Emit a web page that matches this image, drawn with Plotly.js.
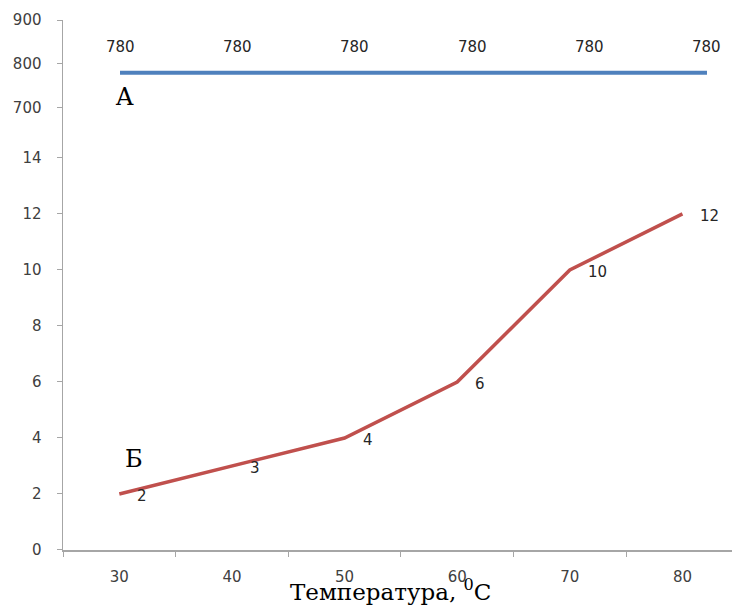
<!DOCTYPE html>
<html>
<head>
<meta charset="utf-8">
<script src="https://cdn.plot.ly/plotly-3.0.1.min.js"></script>
<style>html,body{margin:0;padding:0;background:#fff;}#chart{width:732px;height:606px;}</style>
</head>
<body>
<div id="chart"></div>
<script>
const temperatures = ["30", "40", "50", "60", "70", "80"];
const seriesA = [780, 780, 780, 780, 780, 780];
const seriesB = [2, 3, 4, 6, 10, 12];
const lowerTicks = [0, 2, 4, 6, 8, 10, 12, 14];
const upperTicks = [700, 800, 900];

const tickFont = {family: "DejaVu Sans, Verdana, sans-serif", size: 15, color: "#404040"};
const labelFont = {family: "DejaVu Sans, Verdana, sans-serif", size: 15, color: "#262626"};
const serif = "DejaVu Serif, Liberation Serif, serif";

const traces = [
  {x: temperatures, y: seriesB, xaxis: "x", yaxis: "y", mode: "lines", type: "scatter",
   line: {color: "#c0504d", width: 3.5}, hoverinfo: "skip"},
  {x: temperatures, y: seriesA, xaxis: "x2", yaxis: "y2", mode: "lines", type: "scatter",
   line: {color: "#4f81bd", width: 4}, hoverinfo: "skip"}
];

const annotations = [];
temperatures.forEach((t, i) => {
  annotations.push({x: i, y: seriesB[i], xref: "x", yref: "y", text: String(seriesB[i]),
    showarrow: false, xanchor: "left", yanchor: "middle", xshift: 16, yshift: -2, font: labelFont});
  annotations.push({x: i, y: seriesA[i], xref: "x2", yref: "y2", text: String(seriesA[i]),
    showarrow: false, xanchor: "center", yanchor: "middle", yshift: 26, font: labelFont});
});
annotations.push({x: 0, y: seriesA[0], xref: "x2", yref: "y2", text: "A",
  showarrow: false, xanchor: "center", yanchor: "middle", xshift: 4, yshift: -24,
  font: {family: serif, size: 24, color: "#000"}});
annotations.push({x: 0, y: seriesB[0], xref: "x", yref: "y", text: "Б",
  showarrow: false, xanchor: "center", yanchor: "middle", xshift: 15, yshift: 35,
  font: {family: serif, size: 24, color: "#000"}});
annotations.push({x: 0.489, y: 0, xref: "paper", yref: "paper", text: "Температура, <sup>0</sup>C",
  showarrow: false, xanchor: "center", yanchor: "middle", yshift: -40,
  font: {family: serif, size: 23, color: "#000"}});

const axisCommon = {showgrid: false, zeroline: false, showline: true, linecolor: "#a6a6a6", linewidth: 1.5,
  ticks: "outside", ticklen: 5, tickcolor: "#a6a6a6", tickwidth: 1, tickfont: tickFont};

const layout = {
  width: 732, height: 606,
  margin: {l: 63, r: 0, t: 20, b: 56},
  paper_bgcolor: "#fff", plot_bgcolor: "#fff",
  showlegend: false,
  xaxis: Object.assign({}, axisCommon, {type: "category", range: [-0.5, 5.44], tickson: "boundaries",
    ticklabelstandoff: 12, anchor: "y"}),
  xaxis2: {type: "category", overlaying: "x", anchor: "y2", range: [-0.4855, 5.213], visible: false},
  yaxis: Object.assign({}, axisCommon, {domain: [0, 0.7868], range: [0, 14.89], tickvals: lowerTicks,
    ticklabelstandoff: 12, anchor: "x"}),
  yaxis2: Object.assign({}, axisCommon, {domain: [0.7868, 1], range: [643, 900], tickvals: upperTicks,
    ticklabelstandoff: 12, anchor: "x"}),
  annotations: annotations
};

Plotly.newPlot("chart", traces, layout, {displayModeBar: false, staticPlot: true});
</script>
</body>
</html>
